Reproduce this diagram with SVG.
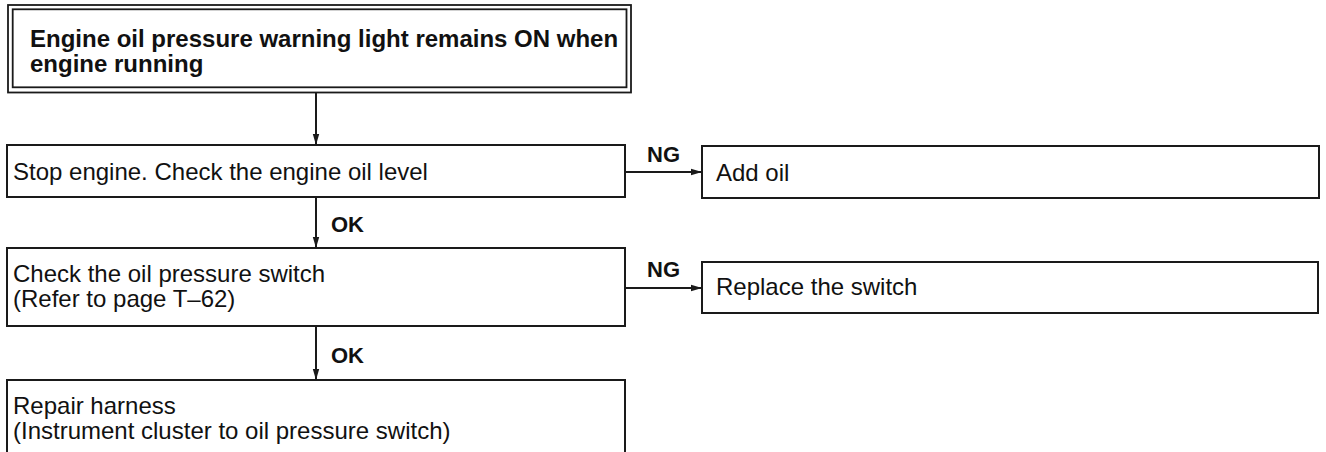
<svg xmlns="http://www.w3.org/2000/svg" width="1326" height="452" viewBox="0 0 1326 452">
<style>
.box{fill:#fff;stroke:#1a1a1a;stroke-width:2}
.thin{fill:none;stroke:#1a1a1a;stroke-width:1.8}
.t{font-family:"Liberation Sans",Arial,Helvetica,sans-serif;font-size:24px;fill:#111}
.b{font-weight:bold}
.lbl{font-family:"Liberation Sans",Arial,Helvetica,sans-serif;font-size:22px;font-weight:bold;fill:#111}
.conn{stroke:#1a1a1a;stroke-width:2;fill:none}
</style>
<defs>
<marker id="arr" markerUnits="userSpaceOnUse" markerWidth="12" markerHeight="8" refX="11" refY="4" orient="auto">
<path d="M0,0.8 L11,4 L0,7.2 Z" fill="#1a1a1a"/>
</marker>
</defs>
<rect width="1326" height="452" fill="#fff"/>
<g id="start">
<rect class="thin" x="8" y="5" width="623" height="87.5"/>
<rect class="thin" x="12.7" y="9.3" width="613.8" height="78"/>
<text class="t b" x="30" y="46.5" font-size="23.5">Engine oil pressure warning light remains ON when</text>
<text class="t b" x="30" y="72" font-size="23.5">engine running</text>
</g>
<g id="check-oil-level">
<rect class="box" x="7" y="145" width="618" height="52"/>
<text class="t" x="13" y="180">Stop engine. Check the engine oil level</text>
</g>
<g id="add-oil">
<rect class="box" x="702" y="146" width="617" height="52"/>
<text class="t" x="716" y="181">Add oil</text>
</g>
<g id="check-switch">
<rect class="box" x="7" y="248" width="618" height="78"/>
<text class="t" x="13" y="282">Check the oil pressure switch</text>
<text class="t" x="13" y="307">(Refer to page T–62)</text>
</g>
<g id="replace-switch">
<rect class="box" x="702" y="262" width="616" height="51"/>
<text class="t" x="716" y="295">Replace the switch</text>
</g>
<g id="repair-harness">
<rect class="box" x="7" y="380" width="618" height="100"/>
<text class="t" x="13" y="414">Repair harness</text>
<text class="t" x="13" y="439">(Instrument cluster to oil pressure switch)</text>
</g>
<g id="connectors">
<line class="conn" x1="316" y1="92.5" x2="316" y2="145" marker-end="url(#arr)"/>
<line class="conn" x1="316" y1="197" x2="316" y2="248" marker-end="url(#arr)"/>
<line class="conn" x1="316" y1="326" x2="316" y2="380" marker-end="url(#arr)"/>
<line class="conn" x1="625" y1="172" x2="702" y2="172" marker-end="url(#arr)"/>
<line class="conn" x1="625" y1="288" x2="702" y2="288" marker-end="url(#arr)"/>
<text class="lbl" x="331" y="232">OK</text>
<text class="lbl" x="331" y="363">OK</text>
<text class="lbl" x="647" y="162">NG</text>
<text class="lbl" x="647" y="277">NG</text>
</g>
</svg>
